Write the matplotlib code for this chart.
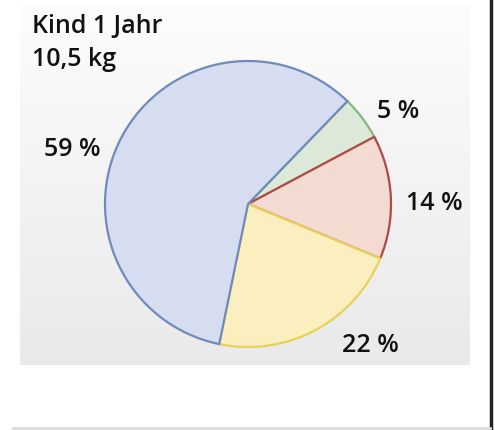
import numpy as np
import matplotlib
matplotlib.use("Agg")
import matplotlib.pyplot as plt
from matplotlib import font_manager

categories = ["Grün", "Rot", "Gelb", "Blau"]
values = [5, 14, 22, 59]
labels = ["5 %", "14 %", "22 %", "59 %"]
fill_colors = ["#dde9d8", "#f3dbd2", "#fbefbf", "#d6ddf1"]
edge_colors = ["#86b482", "#b0494c", "#e9d05a", "#6f8abb"]
title = "Kind 1 Jahr\n10,5 kg"

fams = {f.name for f in font_manager.fontManager.ttflist}
font = "Liberation Sans Narrow" if "Liberation Sans Narrow" in fams else "Open Sans"
plt.rcParams['font.family'] = [font, 'DejaVu Sans']

W, H = 495, 430
fig = plt.figure(figsize=(W / 100, H / 100), dpi=100)
ax = fig.add_axes([0, 0, 1, 1])
ax.set_xlim(0, W)
ax.set_ylim(0, H)
ax.set_aspect('equal')
ax.axis('off')

# background panel with vertical gradient
grad = np.linspace(0, 1, 256).reshape(-1, 1)
top = np.array([0.99, 0.99, 0.99])
bot = np.array([0.915, 0.915, 0.915])
img = top + (bot - top) * grad[..., None]
ax.imshow(img, extent=[20, 470, H - 365, H - 5], origin='upper', aspect='auto', zorder=0)

# right black line and bottom grey line
ax.plot([491, 491], [0, H], color="#222222", lw=2.5, zorder=1)
ax.plot([13, 490], [2, 2], color="#dddddd", lw=2, zorder=1)

wedges, _ = ax.pie(values, colors=fill_colors, startangle=46, counterclock=False,
                   center=(248, H - 204), radius=143, frame=True,
                   wedgeprops=dict(linewidth=0))
for w, ec in zip(wedges, edge_colors):
    w.set_edgecolor(ec)
    w.set_linewidth(1.6)
    w.set_zorder(3)
ax.set_xlim(0, W)
ax.set_ylim(0, H)
ax.axis('off')

ax.text(32, H - 14, title, ha='left', va='top', fontsize=18, color="#111111",
        fontweight='semibold', linespacing=1.4, zorder=5)

label_pos = [(398, H - 111), (434, H - 203), (370, H - 345), (72, H - 150)]
for lab, (x, y) in zip(labels, label_pos):
    ax.text(x, y, lab, ha='center', va='center', fontsize=18, color="#111111",
            fontweight='semibold', zorder=5)

fig.savefig("out.png", dpi=100)
